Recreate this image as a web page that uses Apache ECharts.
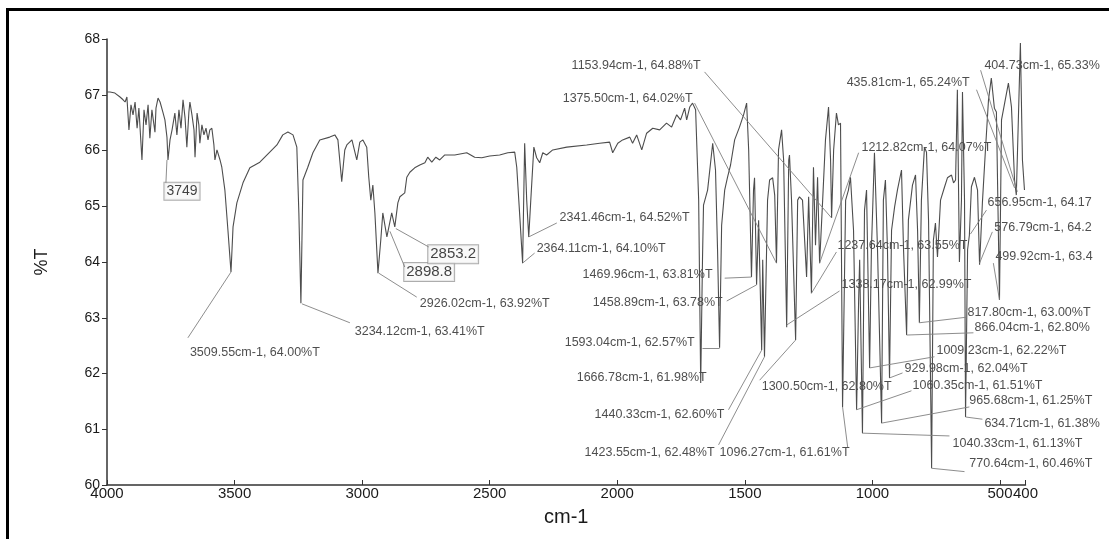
<!DOCTYPE html>
<html>
<head>
<meta charset="utf-8">
<script src="https://cdn.jsdelivr.net/npm/echarts@6/dist/echarts.min.js"></script>
<style>
html,body{margin:0;padding:0;background:#fff;}
#chart{width:1109px;height:539px;}
</style>
</head>
<body>
<div id="chart"></div>
<script>
// ---- data: FTIR spectrum, [wavenumber cm-1, %T] ----
const spectrumHigh = [
[4000,67.05],[3988,67.05],[3969,67.03],[3949,66.96],[3937,66.91],[3929,66.87],[3922,66.96],[3914,66.37],[3906,66.82],[3898,66.64],
[3890,66.87],[3882,66.40],[3875,66.76],[3863,65.83],[3855,66.73],[3847,66.46],[3839,66.82],[3832,66.22],[3824,66.73],[3812,66.33],
[3808,66.76],[3800,66.94],[3792,66.87],[3781,66.69],[3773,66.55],[3765,66.24],[3761,65.83],[3753,66.19],[3745,66.37],[3734,66.67],
[3726,66.28],[3718,66.73],[3710,66.40],[3702,66.91],[3694,66.58],[3687,66.06],[3679,66.69],[3675,66.87],[3667,66.64],[3659,66.37],
[3655,65.88],[3647,66.67],[3640,66.46],[3636,66.13],[3628,66.46],[3620,66.28],[3612,66.40],[3604,66.19],[3597,66.37],[3589,66.40],
[3581,66.10],[3577,65.83],[3569,66.01],[3557,65.83],[3550,65.70],[3538,65.29],[3526,64.57],[3514,63.82],[3506,64.63],[3491,65.06],
[3467,65.42],[3440,65.69],[3401,65.79],[3362,65.97],[3334,66.10],[3311,66.28],[3291,66.33],[3271,66.28],[3256,66.06],[3248,64.88],
[3240,63.26],[3232,65.47],[3213,65.70],[3193,65.96],[3166,66.19],[3127,66.24],[3107,66.28],[3095,66.19],[3080,65.44],[3068,66.01],
[3060,66.10],[3040,66.19],[3021,65.83],[3009,66.15],[2997,66.19],[2982,66.06],[2974,65.52],[2966,65.11],[2958,65.38],[2950,64.88],
[2938,63.80],[2927,64.39],[2919,64.88],[2903,64.45],[2884,64.88],[2872,64.63],[2860,65.06],[2852,65.17],[2833,65.24],[2825,65.52],
[2813,65.61],[2794,65.69],[2774,65.74],[2754,65.78],[2743,65.88],[2727,65.79],[2711,65.88],[2696,65.83],[2676,65.92],[2637,65.92],
[2590,65.96],[2559,65.88],[2531,65.87],[2500,65.90],[2461,65.92],[2429,65.96],[2402,65.97],[2394,65.70],[2382,64.81],[2371,63.98],
[2363,66.13],[2355,65.11],[2347,64.45],[2339,65.11],[2327,66.06],[2316,65.87],[2304,65.78],[2292,65.96],[2277,65.92],[2253,66.01],
[2198,66.06],[2120,66.10],[2069,66.13],[2030,66.15],[2018,65.96],[1998,66.13],[1979,66.19],[1951,66.24],[1940,66.13],[1924,66.28],
[1904,66.01],[1885,66.31],[1861,66.40],[1834,66.37],[1807,66.49],[1787,66.42],[1767,66.64],[1752,66.55],[1736,66.76],[1728,66.55],
[1716,66.78],[1705,66.85]
];
const spectrumFingerprint = [
[1693,66.73],[1681,65.11],[1673,61.83],[1666,64.04],[1662,65.02],[1646,65.29],[1626,66.13],[1615,65.65],[1607,64.22],[1599,62.46],
[1591,64.66],[1579,65.29],[1568,65.52],[1556,65.74],[1540,66.19],[1521,66.42],[1505,66.64],[1493,66.85],[1485,66.01],[1474,63.73],
[1466,65.29],[1462,65.51],[1454,63.59],[1446,64.75],[1434,62.42],[1430,64.04],[1423,62.30],[1411,65.11],[1403,65.47],[1391,65.51],
[1383,65.20],[1376,63.98],[1368,66.01],[1356,66.37],[1348,65.83],[1336,62.83],[1328,65.83],[1325,65.92],[1317,65.11],[1301,62.60],
[1293,65.11],[1286,65.17],[1274,65.11],[1258,63.73],[1250,65.17],[1239,63.44],[1231,65.70],[1223,64.30],[1215,65.52],[1207,63.98],
[1195,65.11],[1184,66.19],[1172,66.78],[1164,65.83],[1160,64.79],[1152,66.01],[1141,66.67],[1133,66.46],[1125,66.49],[1117,61.40],
[1105,65.11],[1094,65.29],[1086,65.52],[1074,64.57],[1062,61.35],[1054,63.32],[1050,64.04],[1039,60.93],[1031,64.93],[1023,65.29],
[1011,62.10],[1004,64.22],[992,65.96],[980,64.22],[964,61.11],[957,65.11],[949,65.47],[941,64.22],[933,61.92],[925,64.57],
[913,64.99],[902,65.29],[886,65.65],[878,64.22],[866,62.69],[859,64.75],[843,65.38],[831,65.56],[823,64.57],[816,62.91],
[808,65.11],[796,66.06],[788,65.97],[780,64.75],[768,60.30],[761,64.39],[753,64.70],[745,64.09],[733,65.11],[717,65.35],
[706,65.51],[690,65.56],[682,65.42],[674,65.47],[667,67.09],[659,64.00],[651,65.11],[647,67.05],[639,65.11],[635,61.22],
[627,64.22],[620,64.48],[612,65.35],[600,65.52],[588,65.29],[580,63.95],[569,65.06],[557,66.01],[545,66.91],[534,67.30],
[522,66.76],[514,66.69],[502,63.32],[494,66.55],[483,66.82],[467,67.21],[455,66.78],[443,65.47],[436,65.20],[428,66.55],
[420,67.93],[412,65.83],[404,65.29]
];

// peak annotation texts and the spectrum points they mark [cm-1, %T]
const peakTexts = [
'3749','3509.55cm-1, 64.00%T','3234.12cm-1, 63.41%T','2926.02cm-1, 63.92%T','2898.8','2853.2',
'2364.11cm-1, 64.10%T','2341.46cm-1, 64.52%T','1153.94cm-1, 64.88%T','1375.50cm-1, 64.02%T',
'1469.96cm-1, 63.81%T','1458.89cm-1, 63.78%T','1593.04cm-1, 62.57%T','1666.78cm-1, 61.98%T',
'1440.33cm-1, 62.60%T','1423.55cm-1, 62.48%T','1096.27cm-1, 61.61%T','1300.50cm-1, 62.80%T',
'1338.17cm-1, 62.99%T','1237.64cm-1, 63.55%T','1212.82cm-1, 64.07%T','435.81cm-1, 65.24%T',
'404.73cm-1, 65.33%','656.95cm-1, 64.17','576.79cm-1, 64.2','499.92cm-1, 63.4',
'817.80cm-1, 63.00%T','866.04cm-1, 62.80%','1009.23cm-1, 62.22%T','929.98cm-1, 62.04%T',
'1060.35cm-1, 61.51%T','965.68cm-1, 61.25%T','634.71cm-1, 61.38%','1040.33cm-1, 61.13%T',
'770.64cm-1, 60.46%T'
];
const peakPoints = [
[3765,65.83],[3514,63.82],[3236,63.25],[2935,63.80],[2891,64.55],[2868,64.60],
[2371,63.98],[2347,64.45],[1160,64.79],[1376,63.98],
[1474,63.73],[1454,63.59],[1599,62.46],[1673,61.83],
[1434,62.42],[1423,62.30],[1117,61.40],[1301,62.60],
[1336,62.87],[1239,63.44],[1207,63.98],[443,65.33],
[432,65.26],[616,64.50],[580,63.98],[502,63.32],
[816,62.91],[866,62.69],[1011,62.10],[933,61.92],
[1062,61.35],[964,61.11],[635,61.22],[1039,60.93],
[768,60.30]
];
// layout (in axis units): where each leader line ends, and where its text starts
const leaderEnds = [
[3769,65.42],[3683,62.64],[3048,62.91],[2786,63.37],[2833,63.91],[2739,64.27],
[2324,64.16],[2237,64.70],[1658,67.41],[1697,66.85],
[1579,63.71],[1571,63.30],[1666,62.46],[1673,61.83],
[1564,61.35],[1603,60.72],[1097,60.68],[1442,61.88],
[1129,63.48],[1141,64.18],[1054,65.96],[592,67.09],
[576,67.44],[553,64.93],[530,64.54],[526,63.98],
[631,63.01],[604,62.73],[757,62.30],[882,62.01],
[847,61.69],[620,61.40],[569,61.18],[698,60.88],
[639,60.24]
];
const labelAnchors = [
[3775,65.27],[3675,62.37],[3029,62.76],[2774,63.26],[2835,63.82],[2741,64.14],
[2316,64.25],[2226,64.79],[2179,67.53],[2214,66.94],
[2136,63.77],[2096,63.28],[2206,62.55],[2159,61.92],
[2089,61.26],[2128,60.59],[1599,60.59],[1434,61.76],
[1121,63.59],[1137,64.30],[1043,66.06],[1101,67.21],
[561,67.53],[549,65.06],[522,64.61],[518,64.09],
[627,63.10],[600,62.83],[749,62.42],[874,62.08],
[843,61.79],[620,61.52],[561,61.11],[686,60.75],
[620,60.38]
];
const boxedLabels = ['3749','2898.8','2853.2'];

const xTicks = [4000,3500,3000,2500,2000,1500,1000,500,400];

const FONT = 'Arial, "Liberation Sans", Helvetica, sans-serif';
const chart = echarts.init(document.getElementById('chart'), null, {renderer:'canvas'});

const markLineData = peakPoints.map((p,i)=>[{coord:p},{coord:leaderEnds[i]}]);
const labelData = labelAnchors.map((a,i)=>{
  const boxed = boxedLabels.indexOf(peakTexts[i]) >= 0;
  const item = {value:a, name:peakTexts[i]};
  if (boxed) {
    item.label = {
      fontSize: peakTexts[i]==='3749' ? 14 : 15,
      color:'#111',
      borderColor:'#999', borderWidth:1, backgroundColor:'#f7f7f7',
      padding:[2,2,1,2]
    };
  }
  return item;
});

chart.setOption({
  animation:false,
  backgroundColor:'#fff',
  grid:{left:107, right:83.5, top:39, bottom:54, containLabel:false},
  xAxis:{
    type:'value', inverse:true, min:400, max:4000,
    name:'cm-1', nameLocation:'middle', nameGap:22,
    nameTextStyle:{fontSize:20, color:'#1a1a1a', fontFamily:FONT},
    axisLine:{show:true, onZero:false, lineStyle:{color:'#333', width:1.5}},
    axisTick:{show:true, inside:true, length:5, customValues:xTicks, lineStyle:{color:'#333'}},
    axisLabel:{customValues:xTicks, fontSize:15, color:'#1a1a1a', margin:1, fontFamily:FONT,
      hideOverlap:false,
      formatter:(v)=>String(v)},
    splitLine:{show:false}
  },
  yAxis:{
    type:'value', min:60, max:68, interval:1,
    name:'%T', nameLocation:'middle', nameGap:56, nameRotate:90,
    nameTextStyle:{fontSize:18, color:'#1a1a1a', fontFamily:FONT},
    axisLine:{show:true, lineStyle:{color:'#333', width:1.5}},
    axisTick:{show:true, length:5, lineStyle:{color:'#333'}},
    axisLabel:{fontSize:14, color:'#1a1a1a', margin:7, fontFamily:FONT},
    splitLine:{show:false}
  },
  graphic:[{
    type:'rect', silent:true, z:100,
    shape:{x:7.5, y:9.5, width:1200, height:600},
    style:{fill:null, stroke:'#000', lineWidth:3}
  }],
  series:[
    {
      type:'line', data:spectrumHigh.concat(spectrumFingerprint),
      showSymbol:false, symbol:'none', clip:false,
      lineStyle:{color:'#4d4d4d', width:1.1},
      markLine:{
        silent:true, symbol:['none','none'], animation:false,
        label:{show:false},
        lineStyle:{color:'#808080', width:0.9, type:'solid'},
        emphasis:{disabled:true},
        data:markLineData
      }
    },
    {
      type:'scatter', data:labelData, symbolSize:0, silent:true, clip:false,
      label:{
        show:true, position:'right', distance:0,
        formatter:(p)=>p.name,
        fontSize:12.5, color:'#222', fontFamily:FONT
      }
    }
  ]
});
</script>
</body>
</html>
